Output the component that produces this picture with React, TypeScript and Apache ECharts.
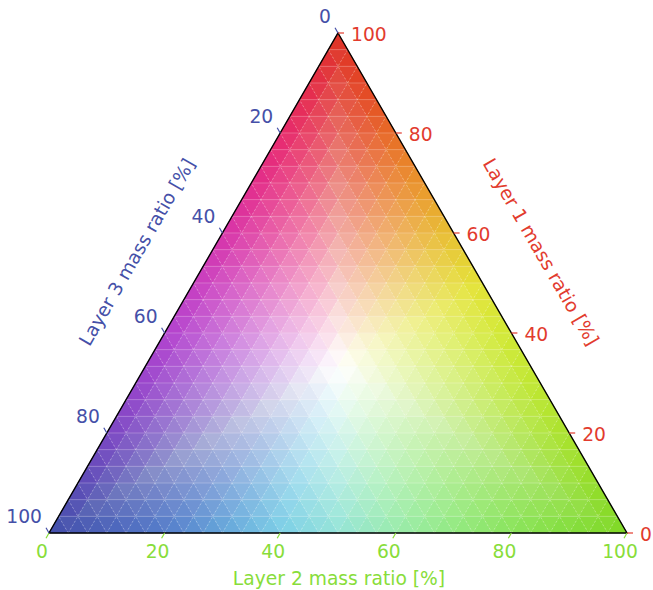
import React, { useEffect, useRef } from 'react';
import * as echarts from 'echarts';

// ---------- data ----------
const DIVISIONS = 30; // mesh subdivisions per side
const LAYER1_TICKS = [0, 20, 40, 60, 80, 100];
const LAYER2_TICKS = [0, 20, 40, 60, 80, 100];
const LAYER3_TICKS = [0, 20, 40, 60, 80, 100];
const LAYER1_TITLE = 'Layer 1 mass ratio [%]';
const LAYER2_TITLE = 'Layer 2 mass ratio [%]';
const LAYER3_TITLE = 'Layer 3 mass ratio [%]';

// ---------- styles ----------
const RED = '#e23b2e';
const GREEN = '#88dd3a';
const BLUE = '#4550a8';
const FONT = 'DejaVu Sans, sans-serif';
const FONT_SIZE = 18.7;

// colour stops along the triangle's perimeter (t: 0 top -> 1 bottom-right -> 2 bottom-left -> 3 top)
const STOP_T = [
  0, 0.1, 0.2, 0.3, 0.4, 0.5, 0.6, 0.7, 0.8, 0.9,
  1, 1.1, 1.2, 1.3, 1.4, 1.5, 1.6, 1.7, 1.8, 1.9,
  2, 2.1, 2.2, 2.3, 2.4, 2.5, 2.6, 2.7, 2.8, 2.9, 3,
];
const STOP_RGB = [
  [222, 46, 34], [227, 68, 30], [231, 108, 32], [233, 150, 38], [231, 192, 44],
  [226, 226, 48], [208, 232, 46], [190, 230, 42], [170, 226, 40], [148, 221, 37],
  [126, 216, 34], [130, 222, 60], [137, 228, 92], [145, 233, 130], [152, 235, 172],
  [148, 228, 215], [122, 206, 230], [98, 165, 218], [82, 125, 202], [72, 98, 186],
  [64, 76, 170], [92, 70, 182], [122, 66, 194], [150, 63, 202], [176, 62, 205],
  [198, 58, 192], [214, 48, 168], [225, 40, 138], [230, 36, 108], [228, 38, 72],
  [222, 46, 34],
];

function edgeColor(t: number): number[] {
  for (let i = 0; i < STOP_T.length - 1; i++) {
    if (t <= STOP_T[i + 1]) {
      const f = (t - STOP_T[i]) / (STOP_T[i + 1] - STOP_T[i]);
      const a = STOP_RGB[i], b = STOP_RGB[i + 1];
      return [0, 1, 2].map((k) => a[k] + (b[k] - a[k]) * f);
    }
  }
  return STOP_RGB[STOP_RGB.length - 1];
}

function ternaryColor(l1: number, l2: number, l3: number): string {
  const m = Math.min(l1, l2, l3);
  const s = 1 - 3 * m;
  if (s < 1e-9) return 'rgb(255,255,255)';
  const e1 = (l1 - m) / s, e2 = (l2 - m) / s, e3 = (l3 - m) / s;
  let t: number;
  if (m === l3) t = e2;
  else if (m === l1) t = 1 + e3;
  else t = 2 + e1;
  const c = edgeColor(t);
  const r = c.map((v) => Math.round(255 * (1 - s) + v * s));
  return `rgb(${r[0]},${r[1]},${r[2]})`;
}

// ternary (layer1, layer2) -> cartesian data coordinates
const toXY = (l1: number, l2: number) => [l2 + l1 / 2, l1];

export default function App() {
  const ref = useRef<HTMLDivElement>(null);

  useEffect(() => {
    if (!ref.current) return;
    const chart = echarts.init(ref.current, null, { renderer: 'svg' });
    const N = DIVISIONS;

    // mesh cells [a (layer1 index), b (layer2 index), up]
    const cells: number[][] = [];
    for (let a = 0; a < N; a++) {
      for (let b = 0; a + b < N; b++) {
        cells.push([a, b, 1]);
        if (a + b < N - 1) cells.push([a, b, 0]);
      }
    }
    // grid lines [direction, k]
    const lines: number[][] = [];
    for (let d = 0; d < 3; d++) for (let k = 1; k < N; k++) lines.push([d, k]);

    const ticks: number[][] = [
      ...LAYER1_TICKS.map((v) => [0, v]),
      ...LAYER2_TICKS.map((v) => [1, v]),
      ...LAYER3_TICKS.map((v) => [2, v]),
    ];

    const option: any = {
      animation: false,
      grid: { left: 49, top: 33, width: 578, height: 500 },
      xAxis: { type: 'value', min: 0, max: 1, show: false },
      yAxis: { type: 'value', min: 0, max: 1, show: false },
      series: [
        {
          type: 'custom',
          silent: true,
          clip: false,
          progressive: 0,
          data: cells,
          renderItem: (params: any, api: any) => {
            const a = api.value(0), b = api.value(1), up = api.value(2);
            const pts = up
              ? [[a, b], [a, b + 1], [a + 1, b]]
              : [[a + 1, b], [a, b + 1], [a + 1, b + 1]];
            let c1 = 0, c2 = 0;
            const px = pts.map(([p, q]) => {
              c1 += p / N / 3;
              c2 += q / N / 3;
              return api.coord(toXY(p / N, q / N));
            });
            const col = ternaryColor(c1, c2, 1 - c1 - c2);
            return {
              type: 'polygon',
              shape: { points: px },
              style: { fill: col, stroke: col, lineWidth: 0.6 },
            };
          },
        },
        {
          type: 'custom',
          silent: true,
          clip: false,
          progressive: 0,
          data: lines,
          renderItem: (params: any, api: any) => {
            const d = api.value(0), k = api.value(1) / N;
            let p0: number[], p1: number[];
            if (d === 0) { p0 = toXY(k, 0); p1 = toXY(k, 1 - k); }
            else if (d === 1) { p0 = toXY(0, k); p1 = toXY(1 - k, k); }
            else { p0 = toXY(0, 1 - k); p1 = toXY(1 - k, 0); }
            const a0 = api.coord(p0), a1 = api.coord(p1);
            return {
              type: 'line',
              shape: { x1: a0[0], y1: a0[1], x2: a1[0], y2: a1[1] },
              style: d === 0
                ? { stroke: 'rgba(255,255,255,0.32)', lineWidth: 0.8 }
                : { stroke: 'rgba(255,255,255,0.45)', lineWidth: 0.7, lineDash: [2, 2] },
            };
          },
        },
        {
          type: 'custom',
          silent: true,
          clip: false,
          data: [[0]],
          renderItem: (params: any, api: any) => {
            const pts = [toXY(1, 0), toXY(0, 1), toXY(0, 0)].map((p) => api.coord(p));
            return {
              type: 'polygon',
              shape: { points: pts },
              style: { fill: 'none', stroke: '#000', lineWidth: 1.4 },
            };
          },
        },
        {
          type: 'custom',
          silent: true,
          clip: false,
          data: ticks,
          renderItem: (params: any, api: any) => {
            const ax = api.value(0), raw = api.value(1), v = raw / 100;
            let base: number[], dir: number[], off: number[], align: string, color: string;
            if (ax === 0) {
              base = api.coord(toXY(v, 1 - v)); dir = [1, 0]; off = [13, 1]; align = 'left'; color = RED;
            } else if (ax === 1) {
              base = api.coord(toXY(0, v)); dir = [-0.5, 0.866]; off = [-7, 18]; align = 'center'; color = GREEN;
            } else {
              base = api.coord(toXY(1 - v, 0)); dir = [-0.5, -0.866]; off = [-7, -17]; align = 'right'; color = BLUE;
            }
            const len = 6;
            return {
              type: 'group',
              children: [
                {
                  type: 'line',
                  shape: { x1: base[0], y1: base[1], x2: base[0] + dir[0] * len, y2: base[1] + dir[1] * len },
                  style: { stroke: color, lineWidth: 1.2 },
                },
                {
                  type: 'text',
                  x: base[0] + off[0],
                  y: base[1] + off[1],
                  style: {
                    text: String(raw), fill: color, fontSize: FONT_SIZE, fontFamily: FONT,
                    align, verticalAlign: 'middle',
                  },
                },
              ],
            };
          },
        },
      ],
      graphic: [
        {
          type: 'text', x: 339, y: 578,
          style: { text: LAYER2_TITLE, fill: GREEN, fontSize: FONT_SIZE, fontFamily: FONT, align: 'center', verticalAlign: 'middle' },
        },
        {
          type: 'text', x: 541, y: 252, rotation: -Math.PI / 3,
          style: { text: LAYER1_TITLE, fill: RED, fontSize: FONT_SIZE, fontFamily: FONT, align: 'center', verticalAlign: 'middle' },
        },
        {
          type: 'text', x: 137, y: 252, rotation: Math.PI / 3,
          style: { text: LAYER3_TITLE, fill: BLUE, fontSize: FONT_SIZE, fontFamily: FONT, align: 'center', verticalAlign: 'middle' },
        },
      ],
    };
    chart.setOption(option);
    return () => chart.dispose();
  }, []);

  return (
    <div
      ref={ref}
      style={{ position: 'fixed', left: 0, top: 0, width: 653, height: 590, background: '#fff' }}
    />
  );
}
